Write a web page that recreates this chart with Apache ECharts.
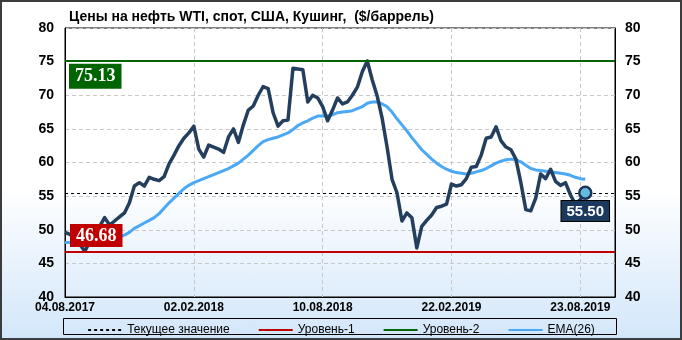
<!DOCTYPE html>
<html>
<head>
<meta charset="utf-8">
<script src="https://cdn.jsdelivr.net/npm/echarts@6/dist/echarts.min.js"></script>
<style>
html,body{margin:0;padding:0;background:#fff;}
#wrap{position:relative;width:682px;height:340px;background:linear-gradient(to bottom,#ffffff 0%,#ffffff 55%,#d2e6fa 100%);}
#chart{position:absolute;left:0;top:0;width:682px;height:340px;}
#frame{position:absolute;left:0;top:0;width:682px;height:340px;box-sizing:border-box;border:2px solid #3c3c3c;pointer-events:none;}
</style>
</head>
<body>
<div id="wrap"><div id="chart"></div><div id="frame"></div></div>
<script>
const titleText = 'Цены на нефть WTI, спот, США, Кушинг,  ($/баррель)';
const xTickLabels = ['04.08.2017', '02.02.2018', '10.08.2018', '22.02.2019', '23.08.2019'];
const xTickStep = 26;
const xMax = 111;
const yMin = 40, yMax = 80, yStep = 5;

const priceValues = [
  49.6, 49.3, 48.8, 47.8, 46.8, 48.2, 49.5, 50.5, 51.8, 50.7,
  51.3, 51.9, 52.5, 54.0, 56.5, 57.0, 56.5, 57.8, 57.5, 57.3,
  57.9, 59.8, 61.1, 62.5, 63.6, 64.4, 65.4, 62.0, 60.8, 62.6,
  62.3, 62.0, 61.5, 63.8, 65.0, 63.0, 65.6, 67.8, 68.4, 70.0,
  71.3, 71.0, 67.4, 65.4, 66.2, 66.3, 74.0, 73.9, 73.8, 69.0,
  70.0, 69.6, 68.3, 66.2, 67.8, 69.6, 68.7, 69.0, 70.0, 71.2,
  73.5, 75.1, 72.3, 69.9, 66.6, 62.3, 57.5, 55.5, 51.3, 52.5,
  51.8, 47.3, 50.5, 51.4, 52.2, 53.3, 53.5, 53.8, 56.8, 56.5,
  56.7, 57.6, 59.3, 59.4, 61.1, 63.6, 63.8, 65.3, 63.2, 62.3,
  61.9, 60.5, 57.0, 53.0, 52.8, 54.7, 58.3, 57.6, 59.0, 57.2,
  56.6, 57.0, 55.2, 53.8, 54.5, 55.5
];
const emaValues = [
  48.1, 48.1, 48.0, 47.9, 47.9, 48.0, 48.1, 48.3, 48.5, 48.6,
  48.8, 49.0, 49.2, 49.6, 50.2, 50.6, 51.0, 51.4, 51.8, 52.4,
  53.2, 54.0, 54.7, 55.4, 56.1, 56.6, 57.0, 57.3, 57.6, 57.9,
  58.2, 58.5, 58.8, 59.1, 59.5, 59.9, 60.5, 61.1, 61.8, 62.5,
  63.1, 63.4, 63.6, 63.8, 64.1, 64.4, 64.9, 65.5, 65.9, 66.2,
  66.6, 66.9, 66.9, 66.9, 67.1, 67.4, 67.5, 67.6, 67.7, 68.0,
  68.3, 68.8, 69.0, 69.0, 68.7, 68.3, 67.5, 66.5, 65.6, 64.7,
  63.7, 62.8, 61.9, 61.2, 60.5, 59.9, 59.4, 59.0, 58.7, 58.5,
  58.4, 58.3, 58.4, 58.6, 58.8, 59.1, 59.5, 59.9, 60.2, 60.4,
  60.5, 60.4, 60.1, 59.6, 59.1, 58.9, 58.8, 58.7, 58.6, 58.5,
  58.4, 58.3, 58.1, 57.8, 57.6, 57.5
];
const currentValue = 55.50;
const level1 = 46.68;
const level2 = 75.13;
const legendNames = ['Текущее значение', 'Уровень-1', 'Уровень-2', 'EMA(26)'];

const chart = echarts.init(document.getElementById('chart'), null, {renderer: 'canvas'});
const lastIdx = priceValues.length - 1;
const fontSans = '"Liberation Sans", Arial, sans-serif';
const fontSerif = '"Liberation Serif", "Times New Roman", serif';

const option = {
  backgroundColor: 'transparent',
  animation: false,
  title: {
    text: titleText, left: 64, top: 5,
    textStyle: {fontFamily: fontSans, fontSize: 14, fontWeight: 'bold', color: '#000'}
  },
  grid: {left: 65, right: 67, top: 28, bottom: 43, show: true, borderColor: '#000', borderWidth: 1, backgroundColor: 'transparent'},
  legend: {
    data: legendNames, left: 'center', top: 319, itemWidth: 34, itemHeight: 10, itemGap: 28,
    itemStyle: {opacity: 0, borderWidth: 0},
    textStyle: {fontFamily: fontSans, fontSize: 12, color: '#000'}
  },
  graphic: [{
    type: 'rect', left: 63, top: 318, shape: {width: 553, height: 16},
    style: {fill: 'transparent', stroke: '#000', lineWidth: 1}, silent: true, z: 100
  }],
  xAxis: {
    type: 'value', min: 0, max: xMax, interval: xTickStep,
    axisLine: {show: true, lineStyle: {color: '#000'}}, axisTick: {show: false},
    axisLabel: {
      margin: 5, fontFamily: fontSans, fontSize: 12, fontWeight: 'bold', color: '#000',
      formatter: v => (v % xTickStep === 0 && xTickLabels[v / xTickStep]) ? xTickLabels[v / xTickStep] : ''
    },
    splitLine: {show: true, lineStyle: {color: '#c8c8c8', type: [4, 3]}}
  },
  yAxis: [{
    type: 'value', min: yMin, max: yMax, interval: yStep, position: 'left',
    axisLine: {show: true, lineStyle: {color: '#000'}}, axisTick: {show: false},
    axisLabel: {margin: 11, fontFamily: fontSans, fontSize: 14, fontWeight: 'bold', color: '#000'},
    splitLine: {show: true, lineStyle: {color: '#c8c8c8', type: [4, 3]}}
  }, {
    type: 'value', min: yMin, max: yMax, interval: yStep, position: 'right',
    axisLine: {show: true, lineStyle: {color: '#000'}}, axisTick: {show: false},
    axisLabel: {margin: 10, fontFamily: fontSans, fontSize: 14, fontWeight: 'bold', color: '#000'},
    splitLine: {show: false}
  }],
  series: [
    {
      name: 'Текущее значение', type: 'line', data: [], symbol: 'none', z: 4,
      lineStyle: {color: '#000', width: 1, type: [3, 3]}, itemStyle: {color: '#000'},
      markLine: {
        silent: true, symbol: 'none', z: 4,
        lineStyle: {color: '#000', width: 1, type: [3, 3]},
        label: {show: false},
        data: [{yAxis: currentValue}]
      }
    },
    {
      name: 'Уровень-1', type: 'line', data: [], symbol: 'none', z: 8,
      lineStyle: {color: '#c00000', width: 3}, itemStyle: {color: '#c00000'},
      markLine: {
        silent: true, symbol: 'none', z: 9,
        lineStyle: {color: '#c00000', width: 2, type: 'solid'},
        label: {
          show: true, position: 'insideStartTop', distance: [5, 5],
          formatter: () => level1.toFixed(2),
          backgroundColor: '#c00000', color: '#fff', padding: [3, 6, 2, 6],
          fontFamily: fontSerif, fontSize: 18, fontWeight: 'bold'
        },
        data: [{yAxis: level1}]
      }
    },
    {
      name: 'Уровень-2', type: 'line', data: [], symbol: 'none', z: 8,
      lineStyle: {color: '#006400', width: 3}, itemStyle: {color: '#006400'},
      markLine: {
        silent: true, symbol: 'none', z: 9,
        lineStyle: {color: '#006400', width: 2, type: 'solid'},
        label: {
          show: true, position: 'insideStartBottom', distance: [4, 3],
          formatter: () => level2.toFixed(2),
          backgroundColor: '#006400', color: '#fff', padding: [4, 6, 3, 6],
          fontFamily: fontSerif, fontSize: 18, fontWeight: 'bold'
        },
        data: [{yAxis: level2}]
      }
    },
    {
      name: 'EMA(26)', type: 'line', data: emaValues.map((v, i) => [i, v]), symbol: 'none',
      lineStyle: {color: '#4aa8f5', width: 3}, itemStyle: {color: '#4aa8f5'}, z: 5
    },
    {
      name: 'Цена', type: 'line', data: priceValues.map((v, i) => [i, v]), symbol: 'none',
      lineStyle: {color: '#243e5e', width: 3.5, join: 'round'}, itemStyle: {color: '#243e5e'}, z: 6
    },
    {
      name: 'Последнее', type: 'scatter', z: 10,
      data: [[lastIdx, priceValues[lastIdx]]],
      symbol: 'circle', symbolSize: 12,
      itemStyle: {color: '#62bde0', borderColor: '#1e3558', borderWidth: 2.5, opacity: 1},
      label: {
        show: true, position: 'bottom', distance: 1,
        formatter: () => currentValue.toFixed(2),
        backgroundColor: '#1b395c', borderColor: '#000', borderWidth: 1, opacity: 1,
        color: '#fff', padding: [3, 5, 2, 5],
        fontFamily: fontSans, fontSize: 15, fontWeight: 'bold'
      }
    }
  ]
};
chart.setOption(option);
</script>
</body>
</html>
